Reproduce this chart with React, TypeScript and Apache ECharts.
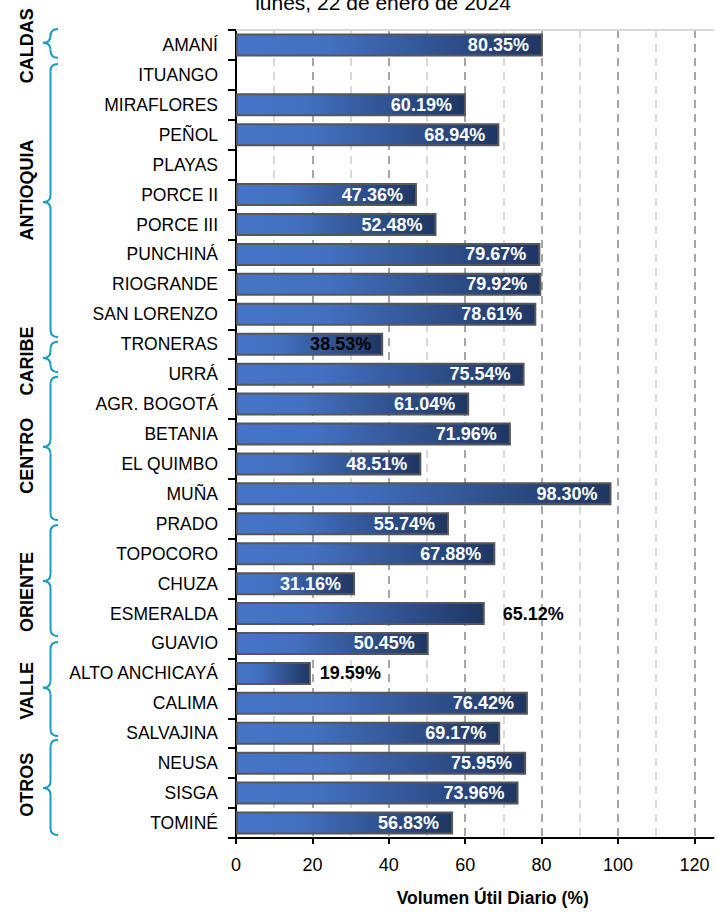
import React, { useEffect, useRef } from "react";
import * as echarts from "echarts";

const titleText = "lunes, 22 de enero de 2024";
const axisName = "Volumen Útil Diario (%)";

const categories = [
  "AMANÍ", "ITUANGO", "MIRAFLORES", "PEÑOL", "PLAYAS", "PORCE II", "PORCE III",
  "PUNCHINÁ", "RIOGRANDE", "SAN LORENZO", "TRONERAS", "URRÁ", "AGR. BOGOTÁ",
  "BETANIA", "EL QUIMBO", "MUÑA", "PRADO", "TOPOCORO", "CHUZA", "ESMERALDA",
  "GUAVIO", "ALTO ANCHICAYÁ", "CALIMA", "SALVAJINA", "NEUSA", "SISGA", "TOMINÉ",
];

const values: (number | null)[] = [
  80.35, null, 60.19, 68.94, null, 47.36, 52.48,
  79.67, 79.92, 78.61, 38.53, 75.54, 61.04,
  71.96, 48.51, 98.3, 55.74, 67.88, 31.16, 65.12,
  50.45, 19.59, 76.42, 69.17, 75.95, 73.96, 56.83,
];

const xTicks = [0, 20, 40, 60, 80, 100, 120];

// label styling exceptions (as in the reference)
const darkInsideLabels = ["TRONERAS"];
const outsideLabels = ["ESMERALDA", "ALTO ANCHICAYÁ"];

// region groups (bracket annotations), spans in row units
const groupNames = ["CALDAS", "ANTIOQUIA", "CARIBE", "CENTRO", "ORIENTE", "VALLE", "OTROS"];
const braceTop = [-0.03, 1.14, 10.42, 11.59, 16.54, 20.45, 23.72];
const braceTip = [0.43, 5.75, 10.96, 13.93, 18.41, 21.98, 25.33];
const braceBottom = [0.93, 10.26, 11.43, 16.37, 20.25, 23.59, 26.9];
const groupLabelRow = [0.53, 5.35, 11.06, 14.23, 18.78, 22.08, 25.22];

const W = 717;
const H = 912;
const GRID_LEFT = 236;
const GRID_TOP = 30;
const GRID_BOTTOM_Y = 838;
const FONT = '"Liberation Sans", Arial, sans-serif';
const BRACE_COLOR = "#1b9cc4";

export default function App() {
  const ref = useRef<HTMLDivElement>(null);

  useEffect(() => {
    if (!ref.current) return;
    const chart = echarts.init(ref.current, undefined, { renderer: "svg" });

    const rowH = (GRID_BOTTOM_Y - GRID_TOP) / categories.length;
    const rowY = (k: number) => GRID_TOP + k * rowH;

    const graphics: any[] = [
      {
        type: "text",
        x: 383,
        y: 13,
        style: {
          text: titleText,
          font: `21px ${FONT}`,
          fill: "#000",
          textAlign: "center",
          textVerticalAlign: "bottom",
        },
      },
    ];

    const xr = 58, xv = 50.5, xt = 43, r = 7;
    const braceStyle = { stroke: BRACE_COLOR, lineWidth: 2, fill: "none" };
    groupNames.forEach((name, i) => {
      const top = rowY(braceTop[i]);
      const tip = rowY(braceTip[i]);
      const bot = rowY(braceBottom[i]);
      graphics.push(
        { type: "bezierCurve", shape: { x1: xr, y1: top, x2: xv, y2: top + r, cpx1: xv, cpy1: top }, style: braceStyle },
        { type: "line", shape: { x1: xv, y1: top + r, x2: xv, y2: tip - r }, style: braceStyle },
        { type: "bezierCurve", shape: { x1: xv, y1: tip - r, x2: xt, y2: tip, cpx1: xv, cpy1: tip }, style: braceStyle },
        { type: "bezierCurve", shape: { x1: xt, y1: tip, x2: xv, y2: tip + r, cpx1: xv, cpy1: tip }, style: braceStyle },
        { type: "line", shape: { x1: xv, y1: tip + r, x2: xv, y2: bot - r }, style: braceStyle },
        { type: "bezierCurve", shape: { x1: xv, y1: bot - r, x2: xr, y2: bot, cpx1: xv, cpy1: bot }, style: braceStyle },
        {
          type: "text",
          x: 27,
          y: rowY(groupLabelRow[i]),
          rotation: Math.PI / 2,
          style: {
            text: name,
            font: `bold 18px ${FONT}`,
            fill: "#000",
            textAlign: "center",
            textVerticalAlign: "middle",
          },
        }
      );
    });

    const barColor = new echarts.graphic.LinearGradient(0, 0, 1, 0, [
      { offset: 0, color: "#4675c8" },
      { offset: 0.3, color: "#4370c0" },
      { offset: 1, color: "#1f3662" },
    ]);

    const data = values.map((v, i) => {
      const name = categories[i];
      const item: any = { value: v };
      if (darkInsideLabels.includes(name)) {
        item.label = { color: "#000", position: "insideRight", distance: 12 };
      } else if (outsideLabels.includes(name)) {
        item.label = { color: "#000", position: "right", distance: name === "ESMERALDA" ? 18 : 9 };
      }
      return item;
    });

    chart.setOption({
      animation: false,
      backgroundColor: "#fff",
      grid: {
        left: GRID_LEFT,
        top: GRID_TOP,
        right: 3.5,
        bottom: H - GRID_BOTTOM_Y,
        containLabel: false,
        outerBoundsMode: "none",
      },
      xAxis: [
        {
          type: "value",
          min: 0,
          max: 125,
          interval: 20,
          position: "bottom",
          axisLine: { show: true, lineStyle: { color: "#000", width: 2 } },
          axisTick: { show: true, length: 6, lineStyle: { color: "#000", width: 2 } },
          axisLabel: {
            color: "#000",
            fontFamily: FONT,
            fontSize: 18,
            margin: 18,
            showMaxLabel: false,
            formatter: (v: number) => (xTicks.includes(v) ? String(v) : ""),
          },
          splitLine: { show: false },
          name: axisName,
          nameLocation: "middle",
          nameGap: 51,
          nameTextStyle: {
            color: "#000",
            fontFamily: FONT,
            fontWeight: "bold",
            fontSize: 17.5,
            padding: [0, 0, 0, 36],
          },
        },
        {
          type: "value",
          min: 0,
          max: 125,
          interval: 10,
          position: "top",
          axisLine: { show: true, lineStyle: { color: "#d9d9d9", width: 2 } },
          axisTick: { show: false },
          axisLabel: { show: false },
          splitLine: {
            show: true,
            showMinLine: false,
            showMaxLine: false,
            lineStyle: { color: ["#d9d9d9", "#a6a6a6"], width: 2, type: [8, 6] },
          },
        },
      ],
      yAxis: {
        type: "category",
        data: categories,
        inverse: true,
        axisLine: { show: true, lineStyle: { color: "#000", width: 2 } },
        axisTick: { show: true, length: 8, lineStyle: { color: "#000", width: 2 } },
        axisLabel: {
          color: "#000",
          fontFamily: FONT,
          fontSize: 17.5,
          margin: 18,
          interval: 0,
        },
        splitLine: { show: false },
      },
      series: [
        {
          type: "bar",
          xAxisIndex: 0,
          data,
          barWidth: 23,
          itemStyle: {
            color: barColor,
            borderColor: "#575757",
            borderWidth: 2,
          },
          label: {
            show: true,
            position: "insideRight",
            distance: 14,
            color: "#fff",
            fontFamily: FONT,
            fontWeight: "bold",
            fontSize: 18,
            formatter: (p: any) => (p.value == null ? "" : `${Number(p.value).toFixed(2)}%`),
          },
          z: 3,
        },
      ],
      graphic: graphics,
    });

    return () => chart.dispose();
  }, []);

  return (
    <div
      ref={ref}
      style={{ position: "absolute", left: 0, top: 0, width: W, height: H }}
    />
  );
}
